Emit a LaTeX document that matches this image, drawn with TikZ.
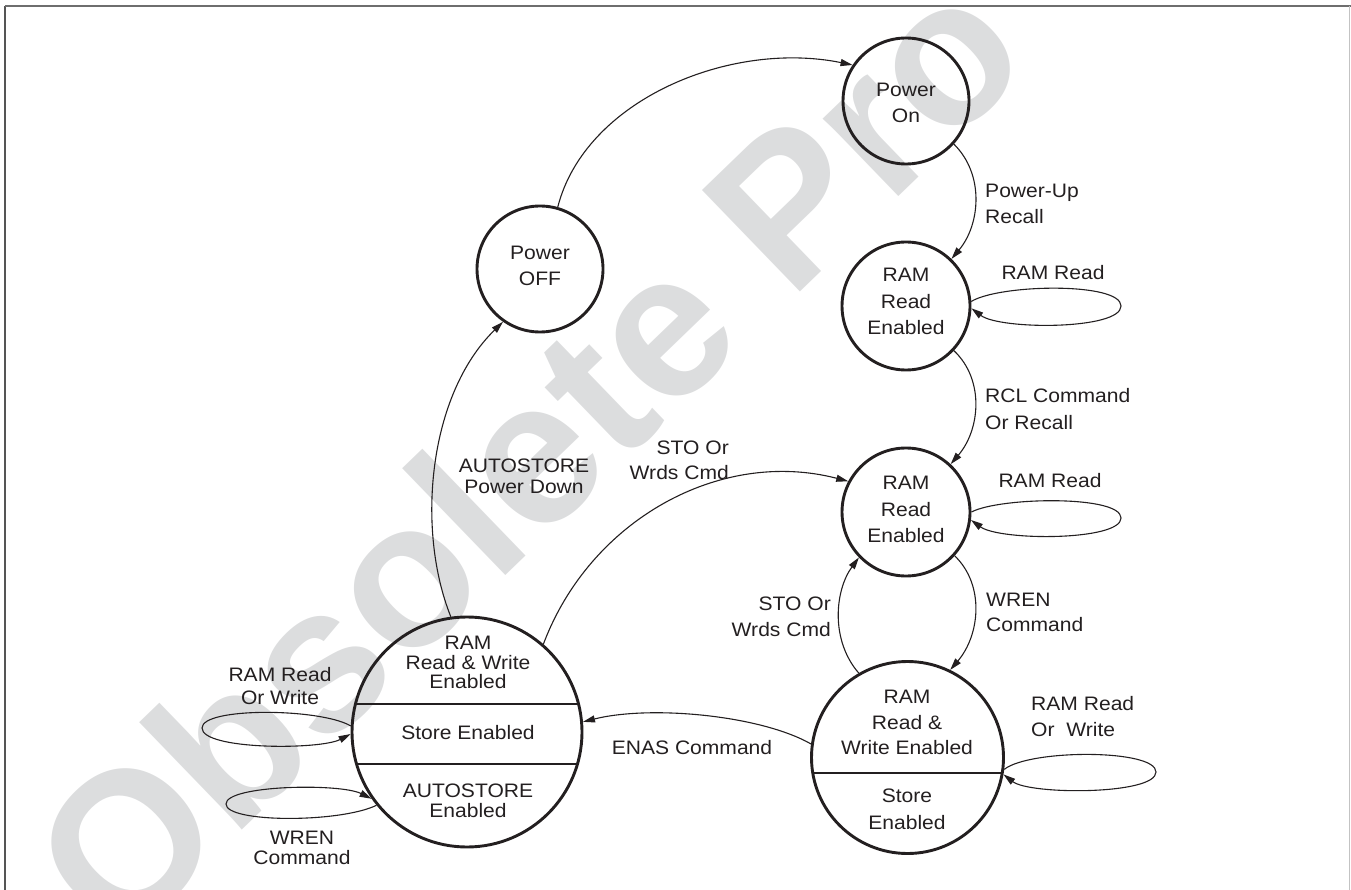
\documentclass[tikz,border=0pt]{standalone}
\usepackage{fontspec}
\setmainfont{Liberation Sans}[FakeStretch=1.08]
\newfontfamily\wmfont{Liberation Sans}
\usetikzlibrary{arrows.meta,calc}
\definecolor{ink}{RGB}{35,31,32}
\definecolor{wmgray}{RGB}{220,221,222}
\definecolor{frameA}{RGB}{110,110,110}
\definecolor{frameB}{RGB}{85,85,85}
\definecolor{frameC}{RGB}{195,195,195}
\begin{document}
\begin{tikzpicture}[x=1pt,y=-1pt,
  stnode/.style={circle, draw=ink, line width=2.9pt, minimum size=#1, inner sep=0pt},
  txt/.style={text=ink, font=\fontsize{19.5}{#1}\selectfont, align=center, inner sep=0pt},
  txt/.default=26.5,
  arr/.style={draw=ink, line width=1.1pt, -{Triangle[length=12pt,width=7pt]}},
  divider/.style={draw=ink, line width=1.4pt},
  wmtext/.style={text=wmgray, font=\wmfont\bfseries\fontsize{205}{205}\selectfont, inner sep=0pt}
]
\useasboundingbox (0,0) rectangle (1351,890);
% watermark
\begin{scope}
  \clip (0,0) rectangle (1351,890);
  \node[wmtext, anchor=base west, rotate=44] (wmk) at (118,950) {Obsolete Pro};
\end{scope}
% frame
\coordinate (fTL) at (5,6);
\coordinate (fTR) at (1351,6);
\coordinate (fBL) at (5,890);
\coordinate (fRT) at (1349.5,6);
\coordinate (fRB) at (1349.5,890);
\draw[frameB, line width=2pt] (fTL) -- (fBL);
\draw[frameA, line width=2pt] (fTL) -- (fTR);
\draw[frameC, line width=1pt] (fRT) -- (fRB);

% states
\node[stnode=126] (pon) at (906,101) {};
\node[txt] (ponT) at (906,103) {Power\\On};
\node[stnode=126] (poff) at (540,269) {};
\node[txt] (poffT) at (540,266) {Power\\OFF};
\node[stnode=128] (r1) at (906,306) {};
\node[txt] (r1T) at (906,301.5) {RAM\\Read\\Enabled};
\node[stnode=128] (r2) at (906,512) {};
\node[txt] (r2T) at (906,509.5) {RAM\\Read\\Enabled};
\node[stnode=192] (br) at (907.5,757.5) {};
\node[txt=25.5] (brA) at (907,722.5) {RAM\\Read \&\\Write Enabled};
\node[txt] (brB) at (907,809.5) {Store\\Enabled};
\draw[divider] ($(br.center)+(-94.7,15.5)$) -- ($(br.center)+(94.7,15.5)$);
\node[stnode=230] (big) at (467,732) {};
\node[txt=19.7] (bigA) at (468,662.5) {RAM\\Read \& Write\\Enabled};
\node[txt] (bigB) at (468,733) {Store Enabled};
\node[txt=20] (bigC) at (468,801) {AUTOSTORE\\Enabled};
\draw[divider] ($(big.center)+(-111.5,-28)$) -- ($(big.center)+(111.5,-28)$);
\draw[divider] ($(big.center)+(-110.5,32)$) -- ($(big.center)+(110.5,32)$);

% transitions
\draw[arr] (poff.74) .. controls (585,100) and (730,40) .. (pon.146);
\draw[arr] (pon.-42) .. controls (985,175) and (980,225) .. (r1.46);
\draw[arr] (r1.-43) .. controls (985,380) and (980,430) .. (r2.47);
\draw[arr] (r2.-42) .. controls (985,585) and (980,635) .. (br.64);
\draw[arr] (br.120) .. controls (830,640) and (835,590) .. (r2.224);
\draw[arr] (br.172) .. controls (760,715) and (650,705) .. (big.5);
\draw[arr] (big.49) .. controls (590,520) and (720,448) .. (r2.152);
\draw[arr] (big.98) .. controls (416,530) and (428,395) .. (poff.235);

% self loops
\coordinate (r1loop) at (1121,306);
\coordinate (r2loop) at (1121,518);
\coordinate (brloop) at (1156,772);
\coordinate (bigloopA) at (202,728);
\coordinate (bigloopB) at (226,804);
\draw[arr] (r1.4) .. controls (1000,284) and (1121,282) .. (r1loop) .. controls (1121,330) and (1000,330) .. (r1.-2);
\draw[arr] (r2.0) .. controls (1000,497) and (1121,495) .. (r2loop) .. controls (1121,541) and (1000,541) .. (r2.-7);
\draw[arr] (br.-7) .. controls (1030,749) and (1156,749) .. (brloop) .. controls (1156,795) and (1030,795) .. (br.-10);
\draw[arr] (big.177) .. controls (320,708) and (202,707) .. (bigloopA) .. controls (202,750) and (320,750) .. (big.181);
\draw[arr] (big.219) .. controls (340,823) and (226,823) .. (bigloopB) .. controls (226,785) and (340,783) .. (big.215);

% labels
\node[txt, align=left, anchor=west] (lPU) at (985,204) {Power-Up\\Recall};
\node[txt=27.5, align=left, anchor=west] (lRCL) at (985,409) {RCL Command\\Or Recall};
\node[txt] (lRR1) at (1053,273) {RAM Read};
\node[txt] (lRR2) at (1050,481) {RAM Read};
\node[txt=25, align=left, anchor=west] (lWR) at (986,612) {WREN\\Command};
\node[txt, align=right, anchor=east] (lSTOb) at (831,617) {STO Or\\Wrds Cmd};
\node[txt, align=left, anchor=west] (lRWr) at (1031,716.5) {RAM Read\\Or\ \ Write};
\node[txt] (lENAS) at (692,748) {ENAS Command};
\node[txt=25, align=right, anchor=east] (lSTOa) at (729,460) {STO Or\\Wrds Cmd};
\node[txt=21] (lAUTO) at (524,476) {AUTOSTORE\\Power Down};
\node[txt=23] (lRWl) at (280,686) {RAM Read\\Or Write};
\node[txt=20] (lWRl) at (302,848) {WREN\\Command};
\end{tikzpicture}
\end{document}
